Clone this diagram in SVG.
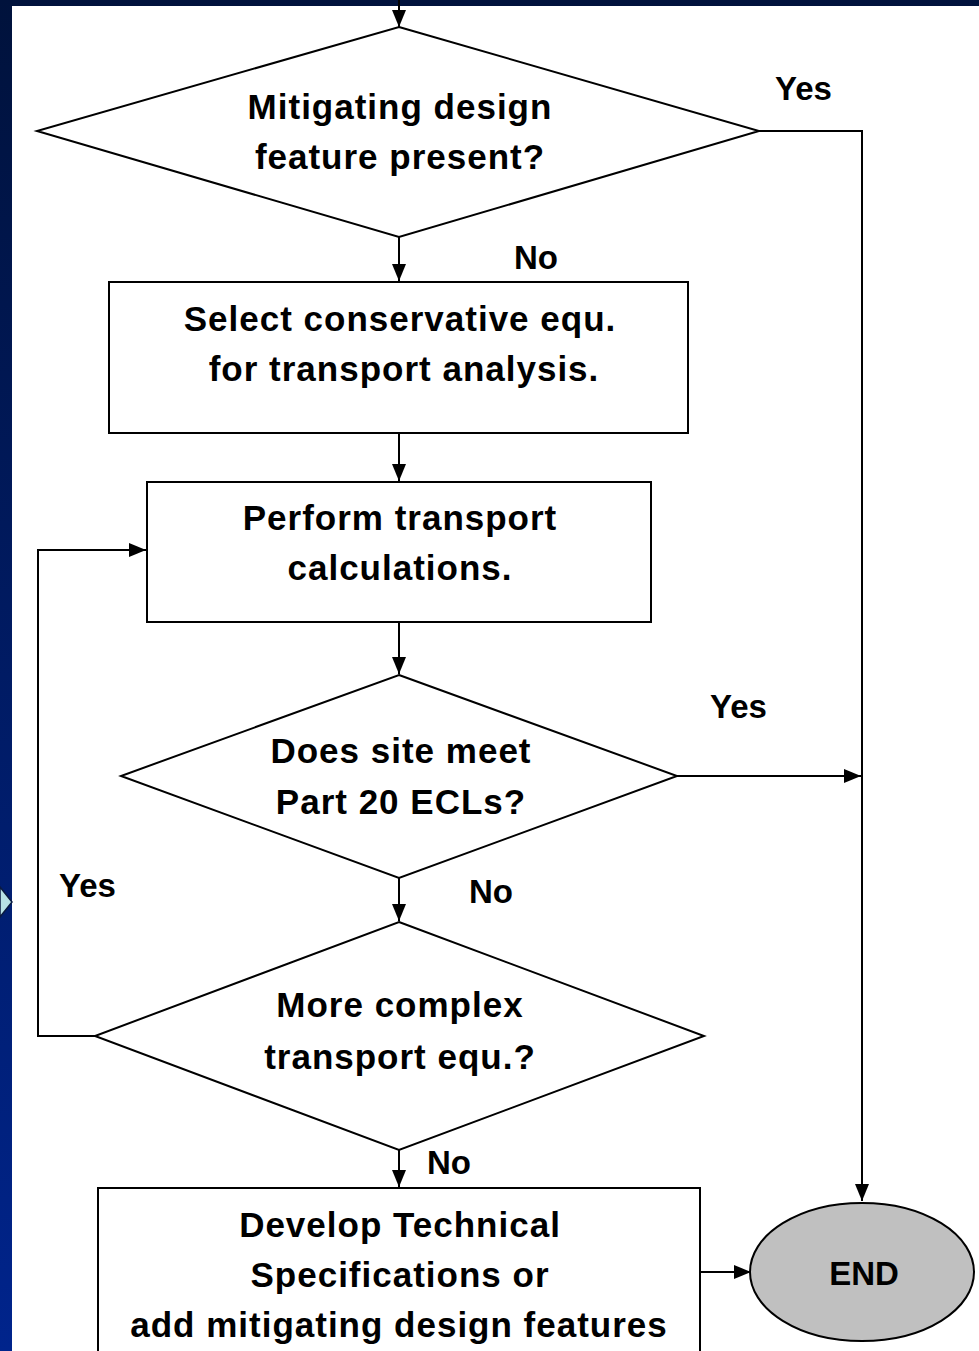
<svg xmlns="http://www.w3.org/2000/svg" width="979" height="1351" viewBox="0 0 979 1351">
<defs>
<linearGradient id="bg" x1="0" y1="0" x2="0" y2="1">
<stop offset="0" stop-color="#00123c"/>
<stop offset="1" stop-color="#00248c"/>
</linearGradient>
<marker id="ah" markerUnits="userSpaceOnUse" markerWidth="18" markerHeight="16" refX="17" refY="7" orient="auto">
<path d="M0,0 L17,7 L0,14 z" fill="#000"/>
</marker>
<style>
.shape{fill:#fff;stroke:#000;stroke-width:2}
.t{font-family:"Liberation Sans",Arial,sans-serif;font-weight:bold;font-size:35px;letter-spacing:1px;text-anchor:middle;fill:#000}
.l{font-family:"Liberation Sans",Arial,sans-serif;font-weight:bold;font-size:33px;fill:#000}
.c{fill:none;stroke:#000;stroke-width:2}
</style>
</defs>
<rect x="0" y="0" width="979" height="1351" fill="url(#bg)"/>
<rect x="12" y="6" width="967" height="1345" fill="#fff"/>
<polygon points="0,887 12,902 0,917" fill="#b8e2e6" stroke="#0a1a40" stroke-width="1.5"/>

<g id="connectors">
<line class="c" x1="399" y1="0" x2="399" y2="27" marker-end="url(#ah)"/>
<polyline class="c" points="759,131 862,131 862,1201" marker-end="url(#ah)"/>
<line class="c" x1="399" y1="237" x2="399" y2="281" marker-end="url(#ah)"/>
<line class="c" x1="399" y1="433" x2="399" y2="481" marker-end="url(#ah)"/>
<line class="c" x1="399" y1="622" x2="399" y2="674" marker-end="url(#ah)"/>
<line class="c" x1="677" y1="776" x2="861" y2="776" marker-end="url(#ah)"/>
<line class="c" x1="399" y1="878" x2="399" y2="921" marker-end="url(#ah)"/>
<polyline class="c" points="95,1036 38,1036 38,550 146,550" marker-end="url(#ah)"/>
<line class="c" x1="399" y1="1150" x2="399" y2="1187" marker-end="url(#ah)"/>
<line class="c" x1="700" y1="1272" x2="751" y2="1272" marker-end="url(#ah)"/>
<text class="l" x="775" y="100">Yes</text>
<text class="l" x="514" y="269">No</text>
<text class="l" x="710" y="718">Yes</text>
<text class="l" x="469" y="903">No</text>
<text class="l" x="59" y="897">Yes</text>
<text class="l" x="427" y="1174">No</text>
</g>

<g id="d1">
<polygon class="shape" points="399,27 759,131 399,237 37,131"/>
<text class="t" x="400" y="119">Mitigating design</text>
<text class="t" x="400" y="169">feature present?</text>
</g>
<g id="r1">
<rect class="shape" x="109" y="282" width="579" height="151"/>
<text class="t" x="400" y="331">Select conservative equ.</text>
<text class="t" x="404" y="381">for transport analysis.</text>
</g>
<g id="r2">
<rect class="shape" x="147" y="482" width="504" height="140"/>
<text class="t" x="400" y="530">Perform transport</text>
<text class="t" x="400" y="580">calculations.</text>
</g>
<g id="d2">
<polygon class="shape" points="399,675 677,776 399,878 121,776"/>
<text class="t" x="401" y="763">Does site meet</text>
<text class="t" x="401" y="814">Part 20 ECLs?</text>
</g>
<g id="d3">
<polygon class="shape" points="399,922 704,1036 399,1150 95,1036"/>
<text class="t" x="400" y="1017">More complex</text>
<text class="t" x="400" y="1069">transport equ.?</text>
</g>
<g id="r3">
<rect class="shape" x="98" y="1188" width="602" height="180"/>
<text class="t" x="400" y="1237">Develop Technical</text>
<text class="t" x="400" y="1287">Specifications or</text>
<text class="t" x="399" y="1337">add mitigating design features</text>
</g>
<g id="end">
<ellipse cx="862" cy="1272" rx="112" ry="69" fill="#c0c0c0" stroke="#000" stroke-width="2"/>
<text x="864" y="1285" font-family="Liberation Sans, Arial, sans-serif" font-size="33" font-weight="bold" text-anchor="middle" fill="#000">END</text>
</g>
</svg>
